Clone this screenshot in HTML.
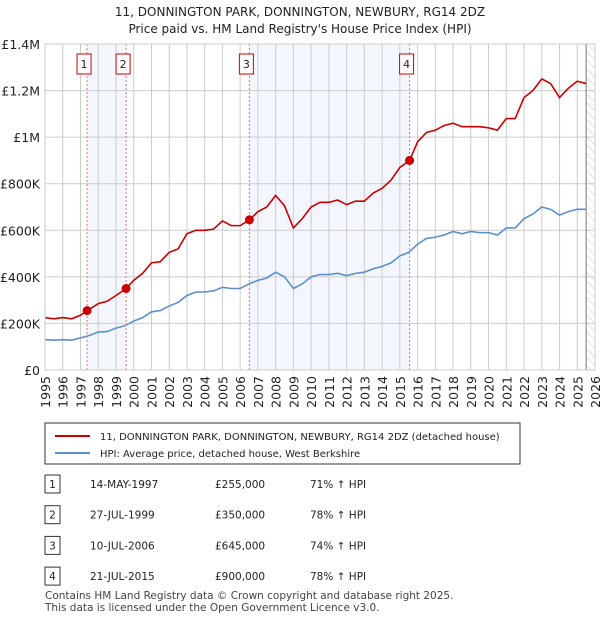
<!DOCTYPE html>
<html><head><meta charset="utf-8"><style>
body{margin:0;width:600px;height:620px;background:#fff;font-family:"DejaVu Sans","Liberation Sans",sans-serif;overflow:hidden;position:relative}
svg text{font-family:"DejaVu Sans","Liberation Sans",sans-serif}
</style></head><body>
<svg width="600" height="620" style="position:absolute;left:0;top:0" id="svg">
<defs><pattern id="hatch" width="6" height="6" patternUnits="userSpaceOnUse" patternTransform="rotate(-45)"><line x1="0" y1="0" x2="0" y2="6" stroke="#ccc" stroke-width="1"/></pattern></defs>
<text x="300" y="16" text-anchor="middle" font-size="12" fill="#222">11, DONNINGTON PARK, DONNINGTON, NEWBURY, RG14 2DZ</text>
<text x="300" y="33" text-anchor="middle" font-size="12" fill="#222">Price paid vs. HM Land Registry's House Price Index (HPI)</text>
<g id="plot"></g>
<rect x="45" y="423" width="475" height="41" fill="#fff" stroke="#333"/>
<line x1="55" y1="436" x2="90" y2="436" stroke="#cc0000" stroke-width="2"/>
<text x="100" y="440" font-size="10" fill="#222">11, DONNINGTON PARK, DONNINGTON, NEWBURY, RG14 2DZ (detached house)</text>
<line x1="55" y1="453" x2="90" y2="453" stroke="#5b8fd0" stroke-width="2"/>
<text x="100" y="457" font-size="10" fill="#222">HPI: Average price, detached house, West Berkshire</text>
<g id="table"></g>
<text x="45" y="599" font-size="10.5" fill="#444">Contains HM Land Registry data © Crown copyright and database right 2025.</text>
<text x="45" y="611" font-size="10.5" fill="#444">This data is licensed under the Open Government Licence v3.0.</text>
</svg>
<script>
const hpiYears=[1995,1995.5,1996,1996.5,1997,1997.5,1998,1998.5,1999,1999.5,2000,2000.5,2001,2001.5,2002,2002.5,2003,2003.5,2004,2004.5,2005,2005.5,2006,2006.5,2007,2007.5,2008,2008.5,2009,2009.5,2010,2010.5,2011,2011.5,2012,2012.5,2013,2013.5,2014,2014.5,2015,2015.5,2016,2016.5,2017,2017.5,2018,2018.5,2019,2019.5,2020,2020.5,2021,2021.5,2022,2022.5,2023,2023.5,2024,2024.5,2025,2025.5];
const hpiValues=[130,128,130,128,138,148,163,165,180,190,210,225,250,255,275,290,320,335,335,340,355,350,350,370,385,395,420,400,350,370,400,410,410,415,405,415,420,435,445,460,490,505,540,565,570,580,595,585,595,590,590,580,610,610,650,670,700,690,665,680,690,690];
const priceYears=[1995,1995.5,1996,1996.5,1997,1997.37,1998,1998.5,1999,1999.57,2000,2000.5,2001,2001.5,2002,2002.5,2003,2003.5,2004,2004.5,2005,2005.5,2006,2006.52,2007,2007.5,2008,2008.5,2009,2009.5,2010,2010.5,2011,2011.5,2012,2012.5,2013,2013.5,2014,2014.5,2015,2015.55,2016,2016.5,2017,2017.5,2018,2018.5,2019,2019.5,2020,2020.5,2021,2021.5,2022,2022.5,2023,2023.5,2024,2024.5,2025,2025.5];
const priceValues=[225,220,225,220,235,255,285,295,320,350,385,415,460,465,505,520,585,600,600,605,640,620,620,645,680,700,750,705,610,650,700,720,720,730,710,725,725,760,780,815,870,900,980,1020,1030,1050,1060,1045,1045,1045,1040,1030,1080,1080,1170,1200,1250,1230,1170,1210,1240,1230];
const saleLabels=["1","2","3","4"];
const saleYears=[1997.37,1999.57,2006.52,2015.55];
const saleValues=[255,350,645,900];
const saleDates=["14-MAY-1997","27-JUL-1999","10-JUL-2006","21-JUL-2015"];
const salePrices=["£255,000","£350,000","£645,000","£900,000"];
const saleHpi=["71% ↑ HPI","78% ↑ HPI","74% ↑ HPI","78% ↑ HPI"];
const yTicks=[0,200,400,600,800,1000,1200,1400];
const yTickLabels=["£0","£200K","£400K","£600K","£800K","£1M","£1.2M","£1.4M"];
const xTicks=[1995,1996,1997,1998,1999,2000,2001,2002,2003,2004,2005,2006,2007,2008,2009,2010,2011,2012,2013,2014,2015,2016,2017,2018,2019,2020,2021,2022,2023,2024,2025,2026];

const X0=45,X1=595,Y0=370,Y1=44;
const sx=y=>X0+(y-1995)/(2026-1995)*(X1-X0);
const sy=v=>Y0-v/1400*(Y0-Y1);
const NS="http://www.w3.org/2000/svg";
const g=document.getElementById('plot');
function mk(tag,attrs,parent){const e=document.createElementNS(NS,tag);for(const k in attrs)e.setAttribute(k,attrs[k]);(parent||g).appendChild(e);return e;}
for(const [a,b] of [[0,1],[2,3]]){
 const r=mk('rect',{x:sx(saleYears[a]),y:Y1,width:sx(saleYears[b])-sx(saleYears[a]),height:Y0-Y1,fill:'#eef3fc',opacity:0.7});
 
 
}
const hx=sx(2025.5);
const hr=mk('rect',{x:hx,y:Y1,width:X1-hx,height:Y0-Y1,fill:'url(#hatch)'});


yTicks.forEach((v,i)=>{
 const l=mk('line',{x1:X0,x2:X1,y1:sy(v),y2:sy(v),stroke:'#ccc'});
 
 
 const t=mk('text',{x:X0-5,y:sy(v)+5,'text-anchor':'end','font-size':12.5,fill:'#222'});
 t.textContent=yTickLabels[i];
 
 
});
xTicks.forEach(y=>{
 const l=mk('line',{x1:sx(y),x2:sx(y),y1:Y1,y2:Y0,stroke:'#ccc'});
 
 
 const t=mk('text',{x:0,y:0,'text-anchor':'end','font-size':12.5,fill:'#222',transform:`translate(${sx(y)+5},${Y0+6}) rotate(-90)`});
 t.textContent=y;
 
 
});
const vb=mk('line',{x1:hx,x2:hx,y1:Y1,y2:Y0,stroke:'#777'});


const hp=mk('polyline',{points:hpiYears.map((y,i)=>sx(y)+','+sy(hpiValues[i])).join(' '),fill:'none',stroke:'#5b8fd0','stroke-width':1.6});


const pp=mk('polyline',{points:priceYears.map((y,i)=>sx(y)+','+sy(priceValues[i])).join(' '),fill:'none',stroke:'#cc0000','stroke-width':1.6});


saleYears.forEach((y,i)=>{
 const l=mk('line',{x1:sx(y),x2:sx(y),y1:Y1,y2:Y0,stroke:'#f07070','stroke-dasharray':'2,2'});
 
 
 const c=mk('circle',{cx:sx(y),cy:sy(saleValues[i]),r:4.5,fill:'#cc0000'});
 
 
 const b=mk('rect',{x:sx(y)-10,y:54,width:14,height:20,fill:'#fff',stroke:'#cc0000'});
 
 
 const t=mk('text',{x:sx(y)-3,y:68,'text-anchor':'middle','font-size':11,fill:'#222'});
 t.textContent=saleLabels[i];
 
 
});
const fr=mk('rect',{x:X0,y:Y1,width:X1-X0,height:Y0-Y1,fill:'none',stroke:'#ccc'});


const tb=document.getElementById('table');
saleLabels.forEach((s,i)=>{
 const y=484+i*30.7;
 const b=mk('rect',{x:45,y:y-9,width:15,height:18,fill:'#fff',stroke:'#333'},tb);
 
 
 const cells=[[52.5,s,'middle'],[90,saleDates[i],'start'],[215,salePrices[i],'start'],[310,saleHpi[i],'start']];
 cells.forEach(c=>{
  const t=mk('text',{x:c[0],y:y+4,'text-anchor':c[2],'font-size':10.5,fill:'#222'},tb);
  t.textContent=c[1];
  
  
 });
});
</script>
</body></html>
